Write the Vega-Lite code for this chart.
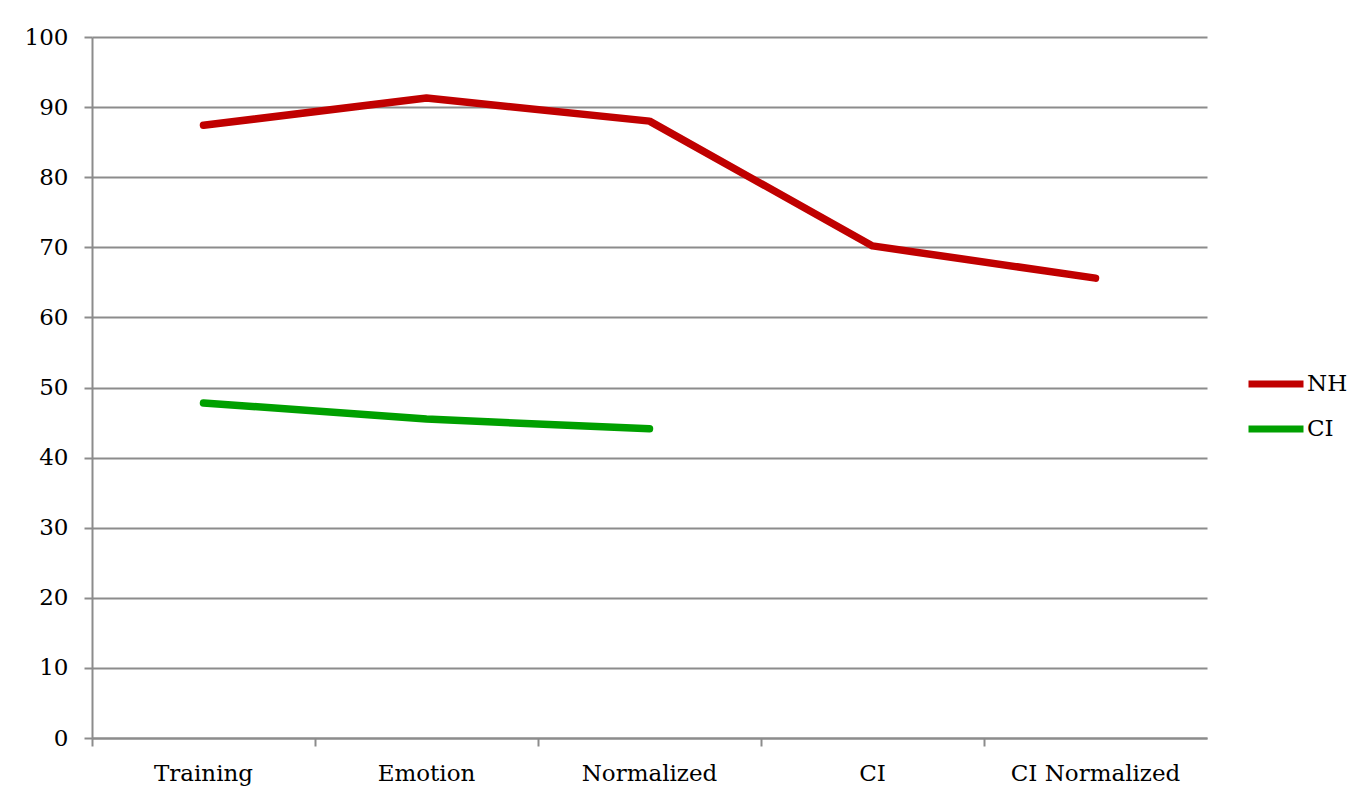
{
  "$schema": "https://vega.github.io/schema/vega-lite/v6.json",
  "autosize": {"type": "none"},
  "width": 1115,
  "height": 701,
  "padding": {"left": 92, "top": 37, "right": 147, "bottom": 61},
  "background": "white",
  "config": {
    "view": {"stroke": null},
    "font": "DejaVu Serif",
    "axis": {
      "labelFont": "DejaVu Serif",
      "labelFontSize": 23,
      "labelColor": "black",
      "domainColor": "#8c8c8c",
      "domainWidth": 2,
      "tickColor": "#8c8c8c",
      "tickWidth": 2,
      "tickSize": 8,
      "gridColor": "#8c8c8c",
      "gridWidth": 2,
      "gridOpacity": 1,
      "title": null
    },
    "legend": {
      "labelFont": "DejaVu Serif",
      "labelFontSize": 23,
      "labelColor": "black"
    }
  },
  "data": {
    "values": [
      {"condition": "Training", "group": "NH", "score": 87.4},
      {"condition": "Emotion", "group": "NH", "score": 91.3},
      {"condition": "Normalized", "group": "NH", "score": 88.0},
      {"condition": "CI", "group": "NH", "score": 70.2},
      {"condition": "CI Normalized", "group": "NH", "score": 65.6},
      {"condition": "Training", "group": "CI", "score": 47.8},
      {"condition": "Emotion", "group": "CI", "score": 45.5},
      {"condition": "Normalized", "group": "CI", "score": 44.1}
    ]
  },
  "mark": {"type": "line", "strokeWidth": 7.5, "strokeCap": "round", "strokeJoin": "round"},
  "encoding": {
    "x": {
      "field": "condition",
      "type": "nominal",
      "sort": ["Training", "Emotion", "Normalized", "CI", "CI Normalized"],
      "scale": {"type": "band", "paddingInner": 0, "paddingOuter": 0},
      "axis": {"labelAngle": 0, "bandPosition": 0, "labelPadding": 16, "grid": false, "labelBound": false}
    },
    "y": {
      "field": "score",
      "type": "quantitative",
      "scale": {"domain": [0, 100], "nice": false, "zero": true},
      "axis": {"values": [0, 10, 20, 30, 40, 50, 60, 70, 80, 90, 100], "labelPadding": 16, "grid": true}
    },
    "color": {
      "field": "group",
      "type": "nominal",
      "sort": ["NH", "CI"],
      "scale": {"domain": ["NH", "CI"], "range": ["#C00000", "#00A000"]},
      "legend": {
        "title": null,
        "orient": "none",
        "legendX": 1153,
        "legendY": 316,
        "symbolType": "stroke",
        "symbolSize": 3025,
        "symbolStrokeWidth": 7,
        "labelOffset": 0,
        "rowPadding": -9
      }
    }
  }
}
